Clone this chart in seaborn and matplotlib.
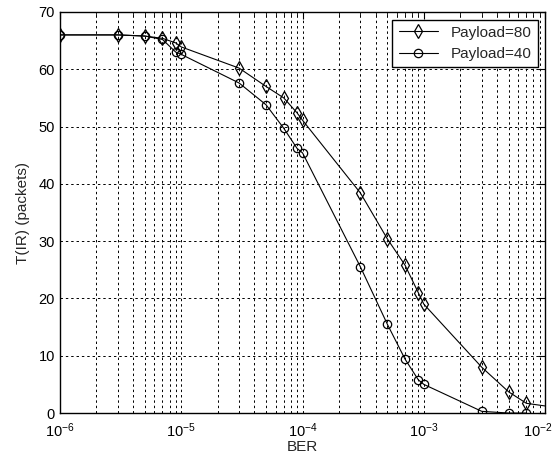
import numpy as np
import pandas as pd
import matplotlib
matplotlib.use("Agg")
import matplotlib.pyplot as plt
import matplotlib.transforms as mtransforms
import seaborn as sns
from matplotlib.ticker import LogLocator, FixedLocator

# -------------------------------
# DATA
# -------------------------------
ber_80 = [1e-6, 3e-6, 5e-6, 7e-6, 9e-6, 1e-5, 3e-5, 5e-5, 7e-5, 9e-5, 1e-4,
          3e-4, 5e-4, 7e-4, 9e-4, 1e-3, 3e-3, 5e-3, 7e-3, 1.2e-2]
t_80 = [66.0, 66.0, 65.8, 65.4, 64.6, 63.9, 60.2, 57.0, 55.0, 52.4, 51.1,
        38.4, 30.4, 25.8, 21.0, 19.0, 8.0, 3.7, 1.7, 1.0]

ber_40 = [1e-6, 3e-6, 5e-6, 7e-6, 9e-6, 1e-5, 3e-5, 5e-5, 7e-5, 9e-5, 1e-4,
          3e-4, 5e-4, 7e-4, 9e-4, 1e-3, 3e-3, 5e-3, 7e-3]
t_40 = [66.0, 66.0, 65.8, 65.2, 63.0, 62.6, 57.6, 53.8, 49.7, 46.2, 45.4,
        25.5, 15.5, 9.4, 5.8, 5.0, 0.3, 0.0, 0.0]

labels = ["Payload=80", "Payload=40"]
x_decades = [1e-6, 1e-5, 1e-4, 1e-3, 1e-2]
y_ticks = [0, 10, 20, 30, 40, 50, 60, 70]

df = pd.concat([
    pd.DataFrame({"BER": ber_80, "T": t_80, "series": labels[0]}),
    pd.DataFrame({"BER": ber_40, "T": t_40, "series": labels[1]}),
])

# -------------------------------
# STYLE
# -------------------------------
sns.set_style("white")
plt.rcParams["font.family"] = ["Liberation Sans", "DejaVu Sans"]
plt.rcParams["mathtext.default"] = "regular"

fig = plt.figure(figsize=(5.58, 4.61), dpi=100)
ax = fig.add_axes([0.1075, 0.104, 0.8695, 0.870])

sns.lineplot(
    data=df, x="BER", y="T", hue="series", style="series",
    markers={labels[0]: "d", labels[1]: "o"}, dashes=False,
    palette={labels[0]: "black", labels[1]: "black"},
    linewidth=0.8, markersize=6, markerfacecolor="none",
    markeredgecolor="black", markeredgewidth=0.9,
    sort=False, ax=ax,
)
# diamonds a bit taller than the circles, like the original
for ln in ax.lines:
    if ln.get_marker() == "d":
        ln.set_markersize(7.5)

ax.set_xscale("log")
ax.set_xlim(1e-6, 1e-2)
ax.set_ylim(0, 70)
ax.xaxis.set_major_locator(FixedLocator(x_decades))
ax.yaxis.set_major_locator(FixedLocator(y_ticks))
ax.xaxis.set_minor_locator(LogLocator(base=10, subs=np.arange(2, 10), numticks=10))

grid_kw = dict(color="black", linestyle=(0, (2.5, 3)), linewidth=0.7)
ax.grid(True, which="major", axis="both", **grid_kw)
ax.grid(True, which="minor", axis="x", **grid_kw)

ax.tick_params(direction="in", which="both", top=True, right=True,
               labelsize=10.5, colors="black")
ax.tick_params(which="major", length=5)
ax.tick_params(which="minor", length=3)
ax.tick_params(axis="x", pad=6)
for s in ax.spines.values():
    s.set_color("black")
    s.set_linewidth(1.0)

ax.set_xlabel("BER", fontsize=11, labelpad=0)
ax.set_ylabel("T(IR) (packets)", fontsize=11, labelpad=6)

handles, labs = ax.get_legend_handles_labels()
for h in handles:
    if h.get_marker() == "d":
        h.set_markersize(7.5)
leg = ax.legend(handles, labs, loc="upper right", fontsize=11,
                frameon=True, fancybox=False, edgecolor="black",
                framealpha=1, handlelength=2.6, borderaxespad=0.5,
                labelspacing=0.5)
leg.get_frame().set_linewidth(1.0)

# keep the last decade label (10^-2) inside the figure
fig.canvas.draw()
last = ax.xaxis.get_major_ticks()[-1].label1
last.set_transform(last.get_transform() +
                   mtransforms.ScaledTranslation(-5 / 72, 0, fig.dpi_scale_trans))

fig.savefig("out.png", dpi=100)
